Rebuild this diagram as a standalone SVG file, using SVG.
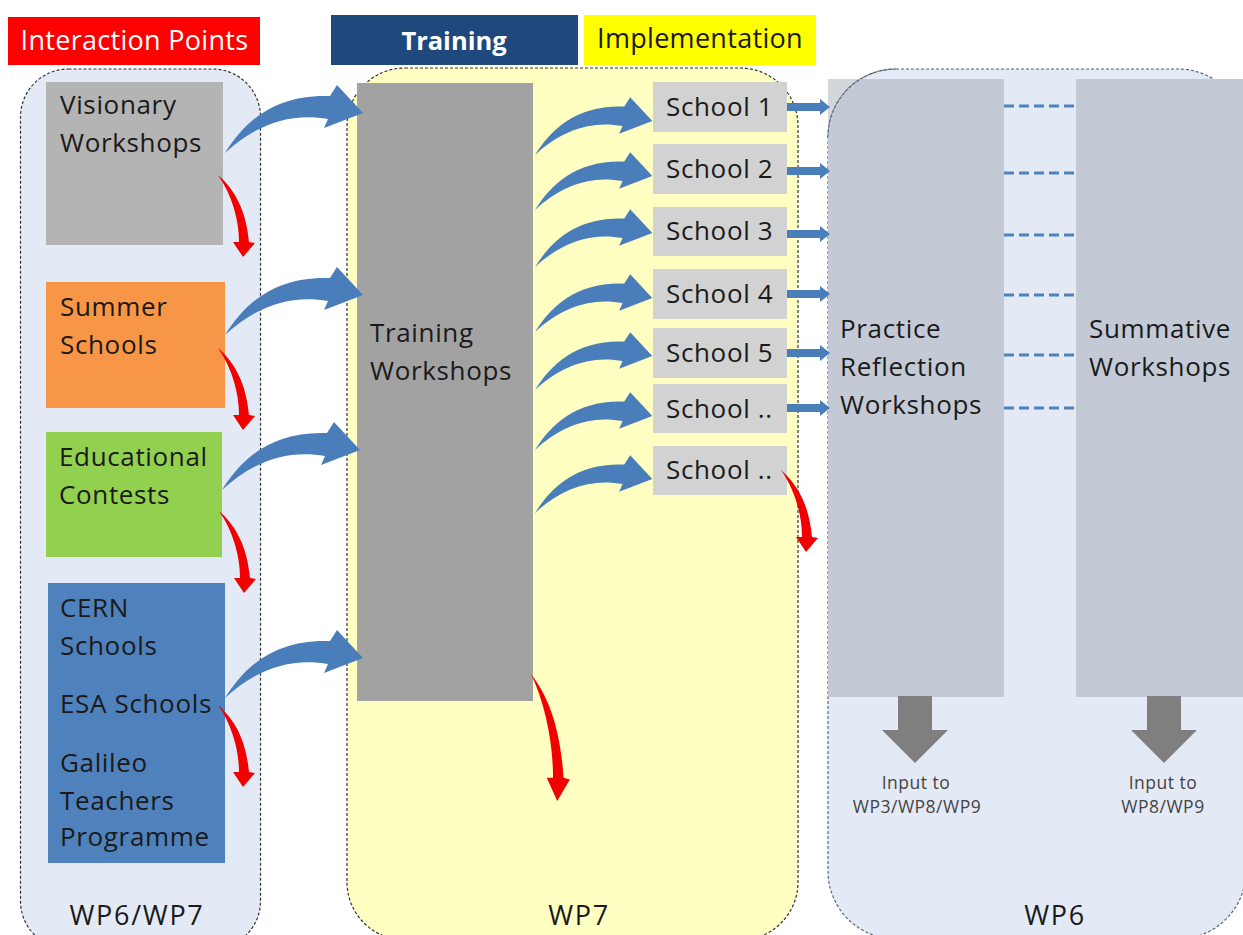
<svg xmlns="http://www.w3.org/2000/svg" width="1243" height="935" viewBox="0 0 1243 935">
<style>
text{font-family:"Open Sans","Noto Sans","DejaVu Sans",sans-serif;fill:#1a1a1a}
.l{font-size:26px;letter-spacing:.65px}
.s{font-size:17.500px;text-anchor:middle;fill:#444;letter-spacing:.5px}
.h{font-size:27px;text-anchor:middle;letter-spacing:.3px}
.w{font-size:27px;text-anchor:middle;letter-spacing:1.7px}
.p{stroke:#333;stroke-width:1.2;stroke-dasharray:3 2}
.q{stroke:#5a6478;stroke-width:1.2;stroke-dasharray:3 2}
.sc{fill:#d2d2d2}
.blue{fill:#4a7ebb}
.red{fill:#f00000}
.dash{stroke:#4f81bd;stroke-width:3;stroke-dasharray:10 5;fill:none}
</style>
<defs>
<path id="ba" d="M0,0C20,-32 50,-59 105,-57L112,-68L138,-40L99,-25L103,-34C65,-41 30,-28 0,0Z"/>
<path id="ra" d="M0,0C17,15 28,35 31,67L37,68L25,82L15,67L21,67C21,45 14,20 0,0Z"/>
<path id="sa" d="M0,-4H33V-8L43,0L33,8V4H0Z"/>
<path id="ga" d="M16,0H50V34H66L33,67L0,34H16Z"/>
</defs>
<rect width="1243" height="935" fill="#fff"/>
<g id="panel-left"><rect class="p" x="20.500" y="69" width="240" height="880" rx="48" fill="#e3eaf5"/></g>
<g id="panel-mid"><rect class="p" x="347" y="68" width="451" height="872" rx="58" fill="#ffffc1"/></g>
<g id="panel-right">
<path d="M828,79H880V140H828Z" fill="#d3d6da"/>
<rect class="q" x="828" y="69" width="418" height="870" rx="68" fill="#e3eaf5"/>
</g>
<g id="hdr-interaction"><rect x="8" y="17" width="252" height="48" fill="#f00"/><text class="h" x="134.500" y="50" style="fill:#fff">Interaction Points</text></g>
<g id="hdr-training"><rect x="331" y="15" width="247" height="50" fill="#1f497d"/><text x="454" y="50" font-size="25.500" text-anchor="middle" font-weight="700" style="fill:#fff">Training</text></g>
<g id="hdr-implementation"><rect x="584" y="15" width="232" height="50" fill="#ff0"/><text class="h" x="700" y="48">Implementation</text></g>
<g id="visionary"><rect x="46" y="82" width="177" height="163" fill="#b4b4b4"/><text class="l" x="60" y="114">Visionary</text><text class="l" x="60" y="152">Workshops</text></g>
<g id="summer"><rect x="46" y="282" width="179" height="126" fill="#f79646"/><text class="l" x="60" y="316">Summer</text><text class="l" x="60" y="354">Schools</text></g>
<g id="educational"><rect x="46" y="432" width="176" height="125" fill="#92d050"/><text class="l" x="59" y="466">Educational</text><text class="l" x="59" y="504">Contests</text></g>
<g id="schools-programmes"><rect x="48" y="583" width="177" height="280" fill="#4f81bd"/><text class="l" x="60" y="617">CERN</text><text class="l" x="60" y="655">Schools</text><text class="l" x="60" y="713">ESA Schools</text><text class="l" x="60" y="772">Galileo</text><text class="l" x="60" y="810">Teachers</text><text class="l" x="60" y="846">Programme</text></g>
<g id="training"><rect x="357" y="83" width="176" height="618" fill="#a2a2a2"/><text class="l" x="370" y="342">Training</text><text class="l" x="370" y="380">Workshops</text></g>
<g id="school1"><rect class="sc" x="653" y="82" width="134" height="50"/><text class="l" x="666" y="116">School 1</text></g>
<g id="school2"><rect class="sc" x="653" y="144" width="134" height="50"/><text class="l" x="666" y="178">School 2</text></g>
<g id="school3"><rect class="sc" x="653" y="207" width="134" height="49"/><text class="l" x="666" y="240">School 3</text></g>
<g id="school4"><rect class="sc" x="653" y="269" width="134" height="50"/><text class="l" x="666" y="303">School 4</text></g>
<g id="school5"><rect class="sc" x="653" y="328" width="134" height="50"/><text class="l" x="666" y="362">School 5</text></g>
<g id="school6"><rect class="sc" x="653" y="384" width="134" height="49"/><text class="l" x="666" y="418">School ..</text></g>
<g id="school7"><rect class="sc" x="653" y="446" width="134" height="49"/><text class="l" x="666" y="479">School ..</text></g>
<g id="practice"><path d="M828,137A68,68 0 0 1 860.500,79H1004V697H828Z" fill="#c3cad5"/><path class="q" d="M828,137A68,68 0 0 1 896,69" fill="none"/><text class="l" x="840" y="338">Practice</text><text class="l" x="840" y="376">Reflection</text><text class="l" x="840" y="414">Workshops</text></g>
<g id="summative"><rect x="1076" y="79" width="167" height="618" fill="#c3cad5"/><text class="l" x="1089" y="338">Summative</text><text class="l" x="1089" y="376">Workshops</text></g>
<g id="labels">
<text class="w" x="137" y="925">WP6/WP7</text><text class="w" x="579" y="925">WP7</text><text class="w" x="1055" y="925">WP6</text>
<text class="s" x="916" y="789">Input to</text><text class="s" x="917" y="813">WP3/WP8/WP9</text>
<text class="s" x="1163" y="789">Input to</text><text class="s" x="1163" y="813">WP8/WP9</text>
</g>
<g id="connectors">
<use href="#ba" class="blue" transform="translate(225,153)"/>
<use href="#ba" class="blue" transform="translate(225,335)"/>
<use href="#ba" class="blue" transform="translate(222,490)"/>
<use href="#ba" class="blue" transform="translate(225,698)"/>
<use href="#ba" class="blue" transform="translate(535,155) scale(.85)"/>
<use href="#ba" class="blue" transform="translate(535,210) scale(.85)"/>
<use href="#ba" class="blue" transform="translate(535,267) scale(.85)"/>
<use href="#ba" class="blue" transform="translate(535,332) scale(.85)"/>
<use href="#ba" class="blue" transform="translate(535,390) scale(.85)"/>
<use href="#ba" class="blue" transform="translate(535,450) scale(.85)"/>
<use href="#ba" class="blue" transform="translate(535,513) scale(.85)"/>
<use href="#ra" class="red" transform="translate(218,175)"/>
<use href="#ra" class="red" transform="translate(218,348)"/>
<use href="#ra" class="red" transform="translate(219,511)"/>
<use href="#ra" class="red" transform="translate(218,705)"/>
<use href="#ra" class="red" transform="translate(781,470)"/>
<use href="#ra" class="red" transform="translate(531,674) scale(1.05,1.55)"/>
<use href="#sa" class="blue" transform="translate(787,107)"/>
<use href="#sa" class="blue" transform="translate(787,171)"/>
<use href="#sa" class="blue" transform="translate(787,234)"/>
<use href="#sa" class="blue" transform="translate(787,294)"/>
<use href="#sa" class="blue" transform="translate(787,353)"/>
<use href="#sa" class="blue" transform="translate(787,408)"/>
<path class="dash" d="M1004,106H1076M1004,173H1076M1004,235H1076M1004,295H1076M1004,355H1076M1004,408H1076"/>
<use href="#ga" fill="#7f7f7f" transform="translate(882,696)"/>
<use href="#ga" fill="#7f7f7f" transform="translate(1131,696)"/>
</g>
</svg>
